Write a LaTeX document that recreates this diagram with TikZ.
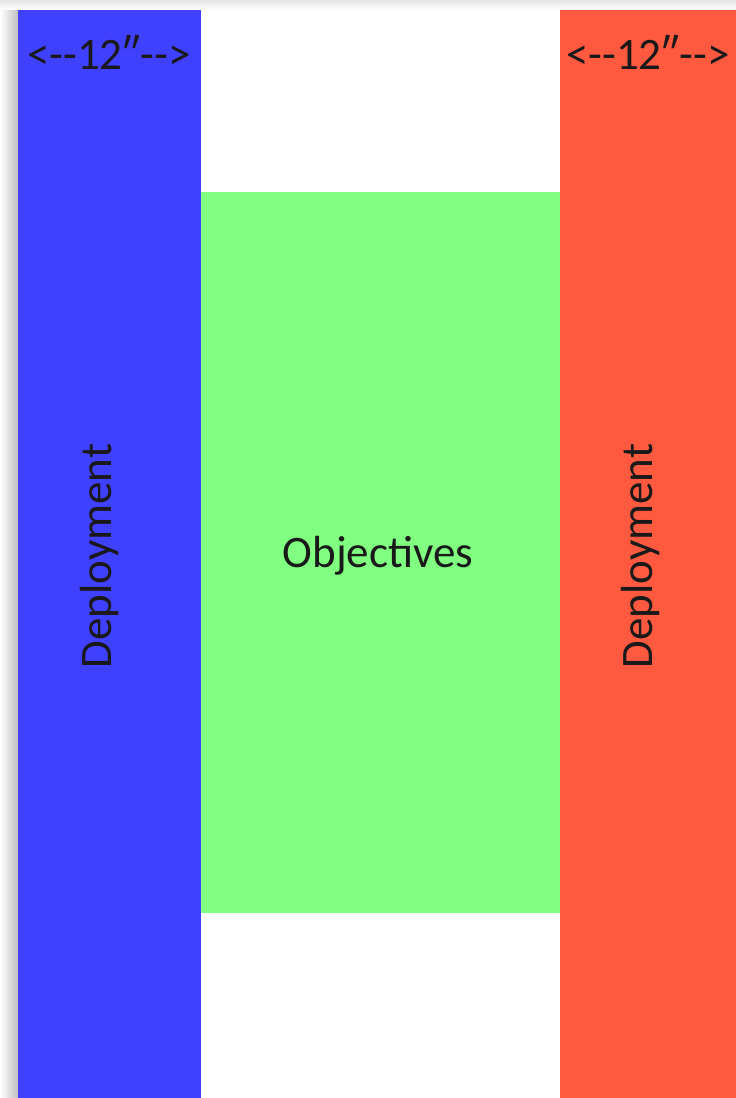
\documentclass[tikz,border=0pt]{standalone}
\usepackage{fontspec}
\setmainfont{Carlito}
\definecolor{deployblue}{RGB}{64,64,255}
\definecolor{deployred}{RGB}{255,90,64}
\definecolor{objgreen}{RGB}{128,255,128}
\newcommand{\widthmark}{<-{}-12″-{}->}
\begin{document}
\begin{tikzpicture}[x=1pt,y=-1pt,
  zone/.style={draw=none,inner sep=0pt,outer sep=0pt,anchor=north west},
  label/.style={font=\fontsize{45}{50}\selectfont,text=black!90,inner sep=0pt}]
  \useasboundingbox (0,0) rectangle (736,1098);
  \fill[white] (0,0) rectangle (736,1098);
  % soft shadow along the top and left edges
  \shade[top color=black!10,bottom color=white] (0,0) rectangle (736,10);
  \shade[left color=white,right color=black!25] (0,10) rectangle (18,1098);
  % deployment strips and objective area
  \node[zone,fill=deployblue,minimum width=183pt,minimum height=1088pt] (blue) at (18,10) {};
  \node[zone,fill=deployred,minimum width=176pt,minimum height=1088pt] (red) at (560,10) {};
  \node[zone,fill=objgreen,minimum width=359pt,minimum height=721pt] (green) at (201,192) {};
  % labels
  \node[label] (wl) at (109,52) {\widthmark};
  \node[label] (wr) at (648,52) {\widthmark};
  \node[label,rotate=90] (dl) at (100,556) {Deployment};
  \node[label,rotate=90] (dr) at (640,556) {Deployment};
  \node[label] (obj) at (378,556) {Objectives};
\end{tikzpicture}
\end{document}
